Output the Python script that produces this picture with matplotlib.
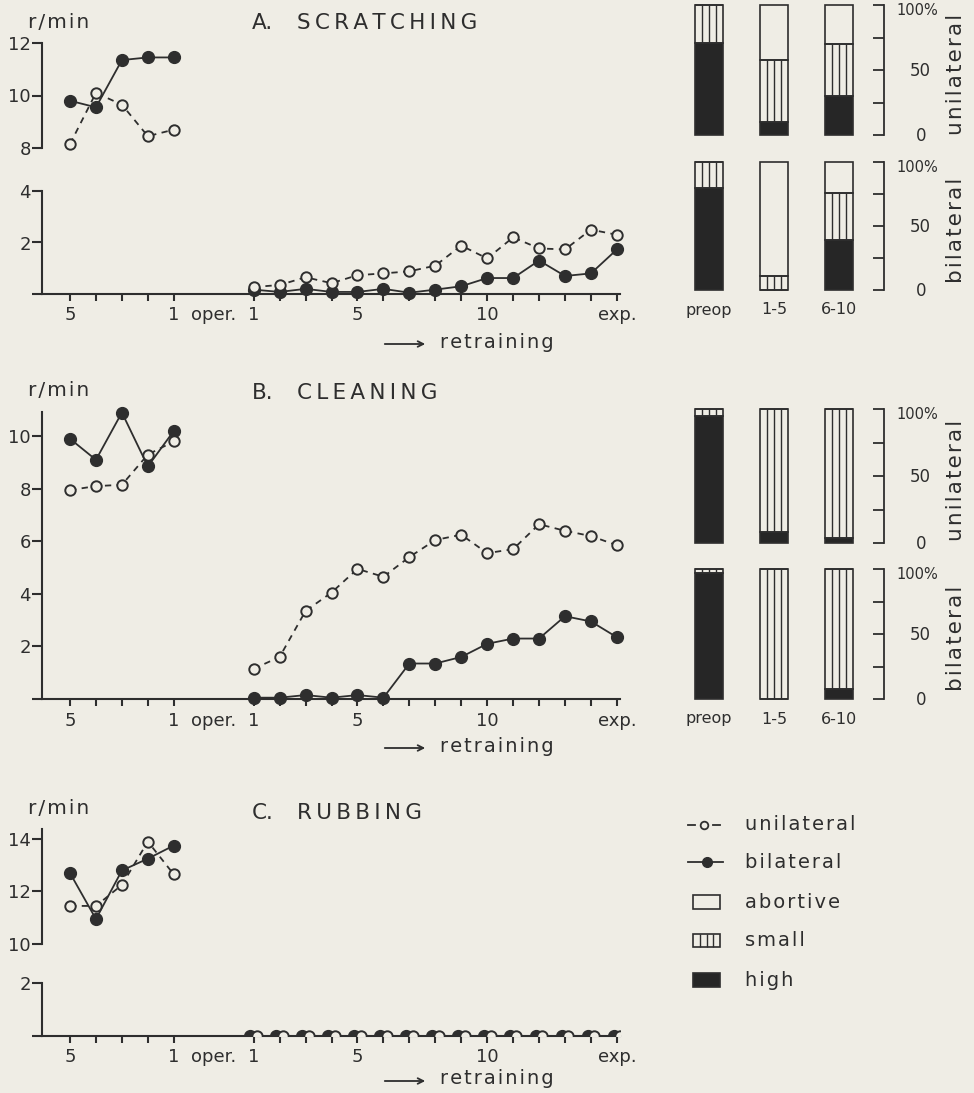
import matplotlib
matplotlib.use('Agg')
import matplotlib.pyplot as plt
from matplotlib.patches import Rectangle
from matplotlib.lines import Line2D
import matplotlib.transforms as mtrans
import numpy as np

# ---------------- data ----------------
preop_labels = ['5', '', '', '', '1']
retrain_labels = ['1', '', '', '', '5', '', '', '', '', '10', '', '', '', '', 'exp.']

scratch_pre_uni = [8.15, 10.1, 9.65, 8.45, 8.7]
scratch_pre_bi = [9.8, 9.55, 11.35, 11.45, 11.45]
scratch_ret_uni = [0.27, 0.35, 0.65, 0.42, 0.73, 0.8, 0.88, 1.1, 1.88, 1.38, 2.2, 1.77, 1.73, 2.5, 2.3]
scratch_ret_bi = [0.17, 0.08, 0.2, 0.08, 0.08, 0.2, 0.05, 0.17, 0.3, 0.62, 0.62, 1.3, 0.7, 0.8, 1.73]

clean_pre_uni = [7.95, 8.1, 8.15, 9.3, 9.8]
clean_pre_bi = [9.9, 9.1, 10.9, 8.85, 10.2]
clean_ret_uni = [1.15, 1.6, 3.35, 4.05, 4.95, 4.65, 5.4, 6.05, 6.25, 5.55, 5.7, 6.65, 6.4, 6.2, 5.85]
clean_ret_bi = [0.05, 0.05, 0.15, 0.05, 0.15, 0.05, 1.35, 1.35, 1.6, 2.1, 2.3, 2.3, 3.15, 2.95, 2.35]

rub_pre_uni = [11.45, 11.45, 12.25, 13.9, 12.65]
rub_pre_bi = [12.7, 10.95, 12.8, 13.25, 13.75]
rub_ret_uni = [0, 0, 0, 0, 0, 0, 0, 0, 0, 0, 0, 0, 0, 0, 0]
rub_ret_bi = [0, 0, 0, 0, 0, 0, 0, 0, 0, 0, 0, 0, 0, 0, 0]

bar_groups = ['preop', '1-5', '6-10']
pct_ticks = [0, 25, 50, 75, 100]
pct_labels = ['0', '50', '100%']
scratch_uni_high = [71, 10, 30]
scratch_uni_small = [29, 48, 40]
scratch_uni_abort = [0, 42, 30]
scratch_bi_high = [80, 0, 39]
scratch_bi_small = [20, 11, 37]
scratch_bi_abort = [0, 89, 24]
clean_uni_high = [95, 8, 4]
clean_uni_small = [5, 92, 96]
clean_uni_abort = [0, 0, 0]
clean_bi_high = [97, 0, 8]
clean_bi_small = [3, 100, 92]
clean_bi_abort = [0, 0, 0]

legend_labels = ['unilateral', 'bilateral', 'abortive', 'small', 'high']

# ---------------- style ----------------
W, H = 974, 1093
BG = '#efede5'
INK = '#2e2e2e'
plt.rcParams['font.family'] = ['DejaVu Sans']
plt.rcParams['text.color'] = INK

THIN = '\u2009'
HAIR = '\u200a'


def spaced(s, sp):
    return sp.join(list(s))


fig = plt.figure(figsize=(W / 100, H / 100), dpi=100, facecolor=BG)

pre_x = np.arange(5)
ret_x = 7.08 + np.arange(15)
XL = (-1.08, 21.2)


def add_ax(x0, y0, x1, y1):
    ax = fig.add_axes([x0 / W, 1 - y1 / H, (x1 - x0) / W, (y1 - y0) / H])
    ax.set_facecolor('none')
    for s in ax.spines.values():
        s.set_visible(False)
        s.set_color(INK)
        s.set_linewidth(1.5)
    ax.tick_params(colors=INK, labelcolor=INK)
    return ax


def plot_series(ax, x, uni, bi, clip=False, dx=0.0):
    x = np.asarray(x, dtype=float)
    ax.plot(x - dx, bi, '-', color=INK, lw=1.3, marker='o', ms=8.5,
            mfc=INK, mec=INK, clip_on=clip, zorder=3)
    ax.plot(x + dx, uni, color=INK, lw=1.3, ls=(0, (3.5, 3)), marker='o', ms=7.5,
            mfc=BG, mec=INK, mew=1.4, clip_on=clip, zorder=4)


def y_axis(ax, ylim, ticks, labels):
    ax.set_ylim(*ylim)
    ax.spines['left'].set_visible(True)
    ax.set_yticks(ticks)
    ax.set_yticklabels(labels)
    ax.tick_params(axis='y', direction='out', length=7, width=1.5, pad=1, labelsize=13)


def x_axis(ax, show=True):
    ax.set_xlim(*XL)
    if not show:
        ax.set_xticks([])
        return
    ax.spines['bottom'].set_visible(True)
    ax.set_xticks(list(pre_x) + list(ret_x))
    ax.set_xticklabels(preop_labels + retrain_labels)
    ax.tick_params(axis='x', direction='out', length=5, width=1.5, pad=4, labelsize=13)
    tr = mtrans.blended_transform_factory(ax.transData, ax.transAxes)
    ax.annotate('oper.', xy=(5.55, 0), xycoords=tr, xytext=(0, -9),
                textcoords='offset points', ha='center', va='top', fontsize=13)


def header(y, letter, title, yr):
    fig.text(28 / W, 1 - yr / H, spaced('r/min', HAIR), fontsize=14.5, va='center', ha='left')
    fig.text(252 / W, 1 - y / H, letter, fontsize=15.5, va='center', ha='left')
    fig.text(297 / W, 1 - y / H, spaced(title, THIN), fontsize=15.5, va='center', ha='left')


def retrain_label(y):
    ax = fig.add_axes([0, 0, 1, 1], facecolor='none')
    ax.set_axis_off()
    ax.set_xlim(0, W)
    ax.set_ylim(H, 0)
    ax.annotate('', xy=(428, y + 2), xytext=(382, y + 2),
                arrowprops=dict(arrowstyle='->', color=INK, lw=1.3))
    ax.text(440, y, spaced('retraining', HAIR), fontsize=14, va='center', ha='left')


# ---------------- A. SCRATCHING ----------------
header(23, 'A.', 'SCRATCHING', 22)
axA1 = add_ax(42, 43, 620, 148)
y_axis(axA1, (8, 12), [8, 10, 12], ['8', '10', '12'])
x_axis(axA1, show=False)
plot_series(axA1, pre_x, scratch_pre_uni, scratch_pre_bi)

axA2 = add_ax(42, 191, 620, 294)
y_axis(axA2, (0, 4), [0, 2, 4], ['', '2', '4'])
x_axis(axA2)
plot_series(axA2, ret_x, scratch_ret_uni, scratch_ret_bi)
retrain_label(342)

# ---------------- B. CLEANING ----------------
header(393, 'B.', 'CLEANING', 390)
axB = add_ax(42, 412, 620, 699)
y_axis(axB, (0, 10.92), [0, 2, 4, 6, 8, 10], ['', '2', '4', '6', '8', '10'])
x_axis(axB)
plot_series(axB, pre_x, clean_pre_uni, clean_pre_bi)
plot_series(axB, ret_x, clean_ret_uni, clean_ret_bi)
retrain_label(746)

# ---------------- C. RUBBING ----------------
header(813, 'C.', 'RUBBING', 809)
axC1 = add_ax(42, 829, 620, 944)
y_axis(axC1, (10, 14.38), [10, 12, 14], ['10', '12', '14'])
x_axis(axC1, show=False)
plot_series(axC1, pre_x, rub_pre_uni, rub_pre_bi)

axC2 = add_ax(42, 983, 620, 1036)
y_axis(axC2, (0, 2), [0, 2], ['', '2'])
x_axis(axC2)
plot_series(axC2, ret_x, rub_ret_uni, rub_ret_bi, clip=True, dx=0.13)
retrain_label(1079)


# ---------------- stacked bars ----------------
def bar_panel(y0, y1, high, small, abort, show_labels, side_label):
    ax = add_ax(680, y0, 884, y1)
    xs = np.arange(len(bar_groups))
    w = 0.43
    high = np.asarray(high, float)
    small = np.asarray(small, float)
    abort = np.asarray(abort, float)
    ax.bar(xs, high, w, color='#262626', edgecolor=INK, lw=1.2, clip_on=False)
    ax.bar(xs, small, w, bottom=high, color='none', edgecolor=INK, lw=1.2, clip_on=False)
    ax.bar(xs, abort, w, bottom=high + small, color='none', edgecolor=INK, lw=1.2, clip_on=False)
    for xi, h, s in zip(xs, high, small):
        if s > 0:
            ax.vlines([xi - w / 4, xi, xi + w / 4], h, h + s, color=INK, lw=1.0, clip_on=False)
    ax.set_xlim(-0.446, 2.69)
    ax.set_ylim(0, 100)
    ax.spines['right'].set_visible(True)
    ax.spines['right'].set_linewidth(1.3)
    ax.yaxis.tick_right()
    ax.set_yticks(pct_ticks)
    ax.set_yticklabels([])
    ax.tick_params(axis='y', direction='in', length=8, width=1.3)
    tr = mtrans.blended_transform_factory(ax.transAxes, ax.transData)
    for val, lab in zip([0, 50, 100], pct_labels):
        if lab.endswith('%'):
            ax.annotate(lab, xy=(1.06, val), xycoords=tr, xytext=(0, -4),
                        textcoords='offset points', fontsize=10.5, ha='left', va='center')
        else:
            ax.annotate(lab, xy=(1.18, val), xycoords=tr, xytext=(0, -1),
                        textcoords='offset points', fontsize=12, ha='center', va='center')
    if show_labels:
        ax.set_xticks(xs)
        ax.set_xticklabels(bar_groups)
        ax.tick_params(axis='x', length=0, pad=9, labelsize=11.5)
    else:
        ax.set_xticks([])
    fig.text(956 / W, 1 - ((y0 + y1) / 2 + 4) / H, spaced(side_label, HAIR), rotation=90,
             fontsize=15.5, ha='center', va='center')
    return ax


bar_panel(5, 135, scratch_uni_high, scratch_uni_small, scratch_uni_abort, False, 'unilateral')
bar_panel(162, 290, scratch_bi_high, scratch_bi_small, scratch_bi_abort, True, 'bilateral')
bar_panel(409, 543, clean_uni_high, clean_uni_small, clean_uni_abort, False, 'unilateral')
bar_panel(569, 699, clean_bi_high, clean_bi_small, clean_bi_abort, True, 'bilateral')

# ---------------- legend ----------------
lg = fig.add_axes([0, 0, 1, 1], facecolor='none')
lg.set_axis_off()
lg.set_xlim(0, W)
lg.set_ylim(H, 0)
lg.add_line(Line2D([688, 695], [825, 825], color=INK, lw=1.3))
lg.add_line(Line2D([713, 720], [825, 825], color=INK, lw=1.3))
lg.plot([704], [825], 'o', ms=5.5, mfc=BG, mec=INK, mew=1.3)
lg.add_line(Line2D([688, 723], [862, 862], color=INK, lw=1.3))
lg.plot([707], [862], 'o', ms=7, mfc=INK, mec=INK)
lg.add_patch(Rectangle((693, 895), 27, 14, fc='none', ec=INK, lw=1.2))
lg.add_patch(Rectangle((693, 934), 27, 13, fc='none', ec=INK, lw=1.2))
lg.vlines([699.75, 706.5, 713.25], 934, 947, color=INK, lw=1.0)
lg.add_patch(Rectangle((693, 973), 27, 14, fc='#262626', ec=INK, lw=1.2))
for yy, t in zip([825, 862, 902, 941, 980], legend_labels):
    lg.text(745, yy, spaced(t, HAIR), fontsize=14, va='center', ha='left')

fig.savefig('out.png', dpi=100, facecolor=BG)
